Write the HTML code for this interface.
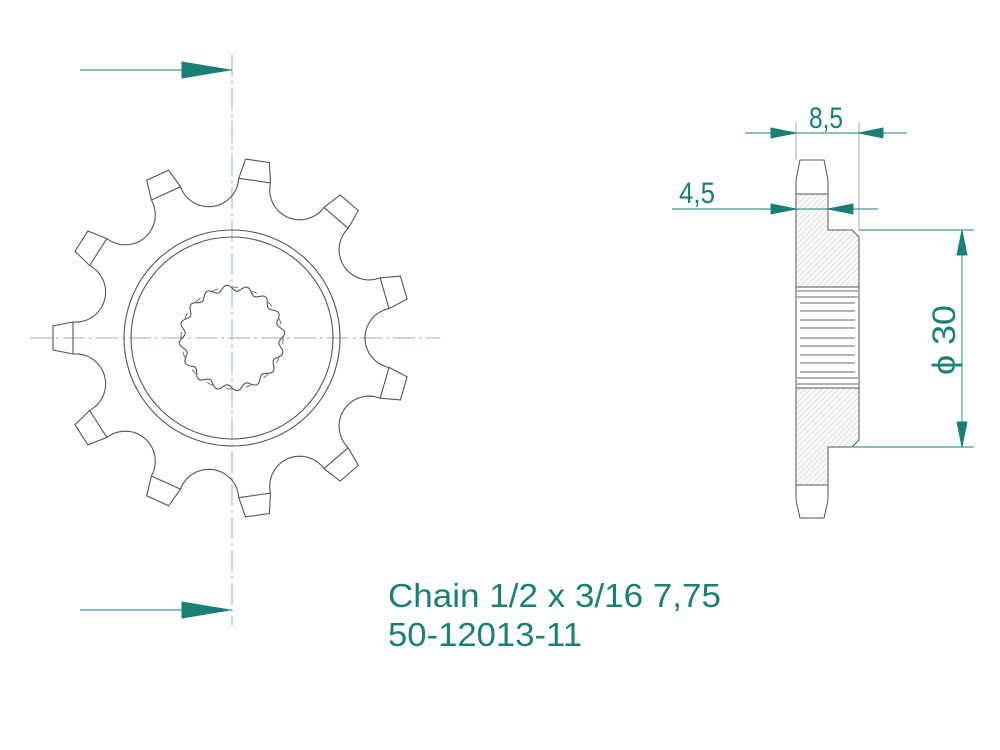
<!DOCTYPE html>
<html><head><meta charset="utf-8"><style>
html,body{margin:0;padding:0;background:#fff;}
svg{display:block;}
</style></head><body>
<svg id="s" width="1000" height="750" viewBox="0 0 1000 750" xmlns="http://www.w3.org/2000/svg">
<defs>
<pattern id="h" width="4" height="4" patternUnits="userSpaceOnUse" patternTransform="rotate(45)">
<rect width="4" height="4" fill="#fafafa"/><line x1="0" y1="0" x2="0" y2="4" stroke="#bbb" stroke-width="0.8"/>
</pattern>
</defs>
<rect width="1000" height="750" fill="#fff"/>
<g stroke="#8fb4c8" stroke-width="1" stroke-dasharray="22 4 3 4" fill="none">
<line x1="232" y1="55" x2="232" y2="625"/>
<line x1="30" y1="338" x2="440" y2="338"/>
</g>
<g stroke="#1a8077" stroke-width="1" fill="#1a8077">
<line x1="80" y1="70" x2="232" y2="70"/>
<polygon points="182,62 230,70 182,78"/>
<line x1="80" y1="610" x2="232" y2="610"/>
<polygon points="182,602 230,610 182,618"/>
</g>
<g id="gear" fill="none" stroke="#555" stroke-width="1.1">
<circle cx="232" cy="338" r="108"/>
<circle cx="232" cy="338" r="101"/>
</g>
<g stroke="#555" stroke-width="1" fill="none">
<path d="M800,160 L824,160 L828,180 L828,194 L796,194 L796,180 Z" fill="#fff"/>
<path d="M796,194 L828,194 L828,230 L852,230 L859,237 L859,287 L796,287 Z" fill="url(#h)"/>
<path d="M796,388 L859,388 L859,440 L852,447 L828,447 L828,485 L796,485 Z" fill="url(#h)"/>
<path d="M796,485 L828,485 L828,500 L824,518 L800,518 L796,500 Z" fill="#fff"/>
<rect x="796" y="287" width="63" height="101" fill="#fff"/>
<g stroke="#666" stroke-width="0.9">
<line x1="797" y1="291" x2="858" y2="291"/><line x1="797" y1="297" x2="858" y2="297"/>
<line x1="800" y1="303" x2="855" y2="303"/><line x1="800" y1="311" x2="855" y2="311"/>
<line x1="800" y1="320" x2="855" y2="320"/><line x1="800" y1="328" x2="855" y2="328"/>
<line x1="800" y1="338" x2="855" y2="338"/><line x1="800" y1="346" x2="855" y2="346"/>
<line x1="800" y1="355" x2="855" y2="355"/><line x1="800" y1="363" x2="855" y2="363"/>
<line x1="800" y1="372" x2="855" y2="372"/><line x1="797" y1="378" x2="858" y2="378"/>
<line x1="797" y1="384" x2="858" y2="384"/>
</g>
</g>
<g stroke="#1a8077" stroke-width="0.9" fill="#1a8077">
<line x1="796" y1="122" x2="796" y2="160" stroke="#8aa"/>
<line x1="859" y1="122" x2="859" y2="230" stroke="#8aa"/>
<line x1="745" y1="133" x2="907" y2="133"/>
<polygon points="771,128 796,133 771,138"/>
<polygon points="883,128 859,133 883,138"/>
<line x1="672" y1="209" x2="878" y2="209"/>
<polygon points="771,204 796,209 771,214"/>
<polygon points="853,204 828,209 853,214"/>
<line x1="859" y1="230" x2="974" y2="230"/>
<line x1="850" y1="447" x2="974" y2="447"/>
<line x1="962" y1="230" x2="962" y2="447"/>
<polygon points="957,255 962,230 967,255"/>
<polygon points="957,422 962,447 967,422"/>
</g>
<g fill="#1a8077" font-family="'Liberation Sans', 'DejaVu Sans', sans-serif">
<text x="809" y="128" font-size="30" textLength="34" lengthAdjust="spacingAndGlyphs">8,5</text>
<text x="679" y="203" font-size="30" textLength="36" lengthAdjust="spacingAndGlyphs">4,5</text>
<text transform="translate(955,375) rotate(-90)" font-size="32" textLength="70" lengthAdjust="spacingAndGlyphs">ϕ 30</text>
<text x="388" y="607" font-size="33" textLength="333" lengthAdjust="spacingAndGlyphs">Chain 1/2 x 3/16 7,75</text>
<text x="388" y="646" font-size="33" textLength="194" lengthAdjust="spacingAndGlyphs">50-12013-11</text>
</g>
</svg>
<script>
(function(){
var cx=232,cy=338,g=document.getElementById('gear'),NS='http://www.w3.org/2000/svg';
function P(r,t,th){var a=th+Math.atan2(t,r),R=Math.hypot(r,t);return [cx+R*Math.cos(a),cy-R*Math.sin(a)];}
var N=11,step=2*Math.PI/N,pts=[],lines='';
for(var i=0;i<N;i++){
 var th=Math.PI - i*step;
 var s1=P(159,16,th),c1=P(179,12,th),c2=P(179,-12,th),s2=P(159,-16,th);
 pts.push(s1,c1,c2,s2);
 lines+='M'+s1[0].toFixed(1)+','+s1[1].toFixed(1)+'L'+s2[0].toFixed(1)+','+s2[1].toFixed(1);
 var vth=th-step/2, C=[cx+163*Math.cos(vth),cy-163*Math.sin(vth)];
 var nth=th-step, B=P(159,16,nth);
 var aA=Math.atan2(s2[1]-C[1],s2[0]-C[0]), aB=Math.atan2(B[1]-C[1],B[0]-C[0]);
 var aIn=Math.atan2(cy-C[1],cx-C[0]);
 var rA=Math.hypot(s2[0]-C[0],s2[1]-C[1]), rB=Math.hypot(B[0]-C[0],B[1]-C[1]);
 function norm(x){while(x<0)x+=2*Math.PI;while(x>=2*Math.PI)x-=2*Math.PI;return x;}
 var d=norm(aB-aA), din=norm(aIn-aA);
 if(din>d) d=d-2*Math.PI;
 for(var k=1;k<24;k++){var f=k/24,a=aA+d*f,r=rA+(rB-rA)*f;pts.push([C[0]+r*Math.cos(a),C[1]+r*Math.sin(a)]);}
}
var dstr='M'+pts.map(function(p){return p[0].toFixed(1)+','+p[1].toFixed(1);}).join('L')+'Z';
var p=document.createElementNS(NS,'path');p.setAttribute('d',dstr);g.appendChild(p);
var l=document.createElementNS(NS,'path');l.setAttribute('d',lines);g.appendChild(l);
var M=16,sp=[];
for(var j=0;j<=M*20;j++){var a=j/(M*20)*2*Math.PI;var ph=(j%20)/20;
 var sm=0.5-0.5*Math.cos(ph*2*Math.PI);var r=47+6*(1-sm);
 sp.push([cx+r*Math.cos(a+0.1),cy-r*Math.sin(a+0.1)]);}
var b=document.createElementNS(NS,'path');b.setAttribute('d','M'+sp.map(function(q){return q[0].toFixed(1)+','+q[1].toFixed(1);}).join('L')+'Z');g.appendChild(b);
var dc=document.createElementNS(NS,'circle');dc.setAttribute('cx',cx);dc.setAttribute('cy',cy);dc.setAttribute('r',51);dc.setAttribute('stroke-dasharray','6 14');dc.setAttribute('stroke-width','0.8');g.appendChild(dc);
})();
</script>
</body></html>
